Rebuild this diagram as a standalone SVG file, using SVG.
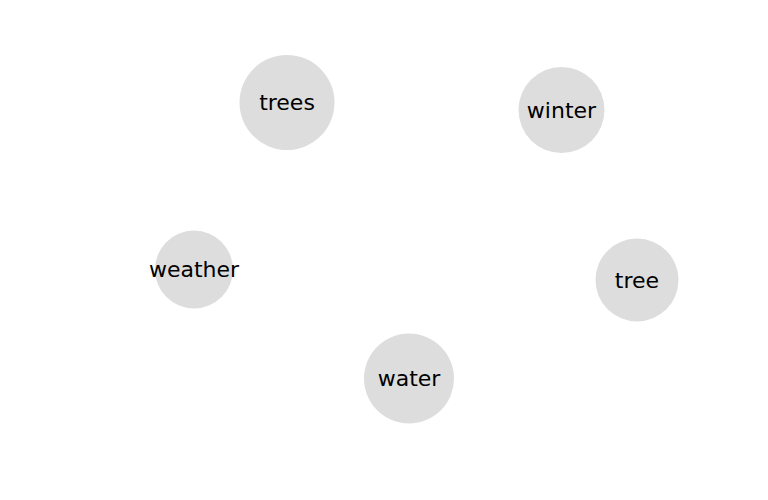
<svg xmlns="http://www.w3.org/2000/svg" width="768" height="500" viewBox="0 0 768 500">
<style>
.node circle{fill:#dddddd;stroke:none}
.node text{font-family:"DejaVu Sans",sans-serif;font-size:22px;fill:#000;text-anchor:middle;dominant-baseline:central}
</style>
<rect width="768" height="500" fill="#ffffff"/>
<g id="connectors"></g>
<g id="trees" class="node"><circle cx="287" cy="102.5" r="47.5"/><text x="287" y="102.5">trees</text></g>
<g id="winter" class="node"><circle cx="561.5" cy="110" r="43"/><text x="561.5" y="110">winter</text></g>
<g id="weather" class="node"><circle cx="194" cy="269.5" r="39"/><text x="194" y="269.5">weather</text></g>
<g id="tree" class="node"><circle cx="637" cy="280" r="41.5"/><text x="637" y="280">tree</text></g>
<g id="water" class="node"><circle cx="409" cy="378.5" r="45"/><text x="409" y="378.5">water</text></g>
</svg>
